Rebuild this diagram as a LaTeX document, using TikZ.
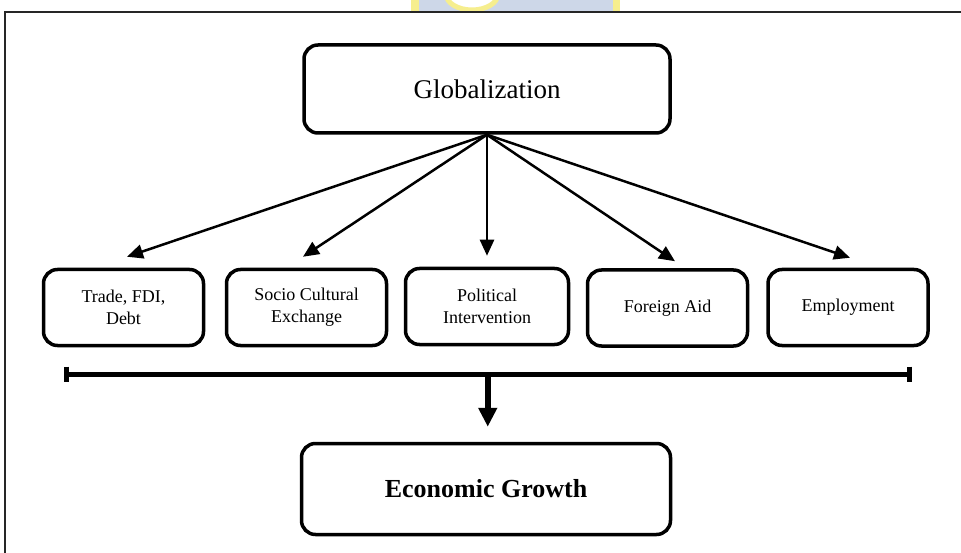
\documentclass[tikz,border=0pt]{standalone}
\usepackage{fontspec}
\setmainfont{Liberation Serif}
\usetikzlibrary{arrows.meta,calc}
\definecolor{wmblue}{HTML}{CDD7E8}
\definecolor{wmyellow}{HTML}{F6EE8E}
\begin{document}
\begin{tikzpicture}[x=1pt,y=-1pt,
  box/.style={draw, line width=3.5pt, rounded corners=14pt, inner sep=0pt, align=center},
  small/.style={box, minimum width=160pt, minimum height=76pt, font=\fontsize{18}{22}\selectfont},
  link/.style={line width=2.5pt, -{Triangle[length=16pt,width=14pt]}},
  barline/.style={line width=5pt},
  bigarrow/.style={line width=6pt, -{Triangle[length=19pt,width=18pt]}, shorten >=15pt}]
\useasboundingbox (0,0) rectangle (961,553);

% faint logo strip at the top edge
\begin{scope}
  \clip (405,0) rectangle (625,11);
  \fill[wmblue] (418,0) rectangle (613,12);
  \fill[white] (472,-6) ellipse [x radius=26, y radius=16];
  \draw[wmyellow, line width=5pt] (472,-6) ellipse [x radius=26, y radius=16];
  \fill[wmyellow] (411,0) rectangle (419,12);
  \fill[wmyellow] (613,0) rectangle (620,12);
\end{scope}

% frame
\draw[line width=1.3pt, black!85] (5,553) -- (5,12) -- (961,12);

% boxes
\node[box, minimum width=366pt, minimum height=88pt, font=\fontsize{27}{32}\selectfont] (glob) at (487,89) {Globalization};
\node[small] (trade) at (123.5,307.5) {Trade, FDI,\\Debt};
\node[small] (socio) at (306.5,307.5) {Socio Cultural\\Exchange};
\node[small, minimum width=163pt] (pol) at (487,306.5) {Political\\Intervention};
\node[small] (aid) at (667.5,308) {Foreign Aid};
\node[small] (emp) at (848,307.5) {Employment};
\node[box, minimum width=369pt, minimum height=91pt, font=\bfseries\fontsize{26}{30}\selectfont] (eco) at (486,489) {Economic Growth};

% links from the top box
\draw[link] (glob.south) -- ($(trade.north)+(3.5,-11)$);
\draw[link] (glob.south) -- ($(socio.north)+(-3.5,-11)$);
\draw[link] (glob.south) -- ($(pol.north)+(0,-11)$);
\draw[link] (glob.south) -- ($(aid.north)+(7.5,-7)$);
\draw[link] (glob.south) -- ($(emp.north)+(2,-10)$);

% collecting bar
\coordinate (barL) at (66.5,374);
\coordinate (barR) at (909,374);
\draw[barline] (barL) -- (barR);
\draw[barline] ($(barL)+(0,-7.5)$) -- ($(barL)+(0,7.5)$);
\draw[barline] ($(barR)+(0,-7.5)$) -- ($(barR)+(0,7.5)$);
\coordinate (barM) at ($(barL)!0.5!(barR)$);
\draw[bigarrow] (barM) -- (barM |- eco.north);
\end{tikzpicture}
\end{document}
